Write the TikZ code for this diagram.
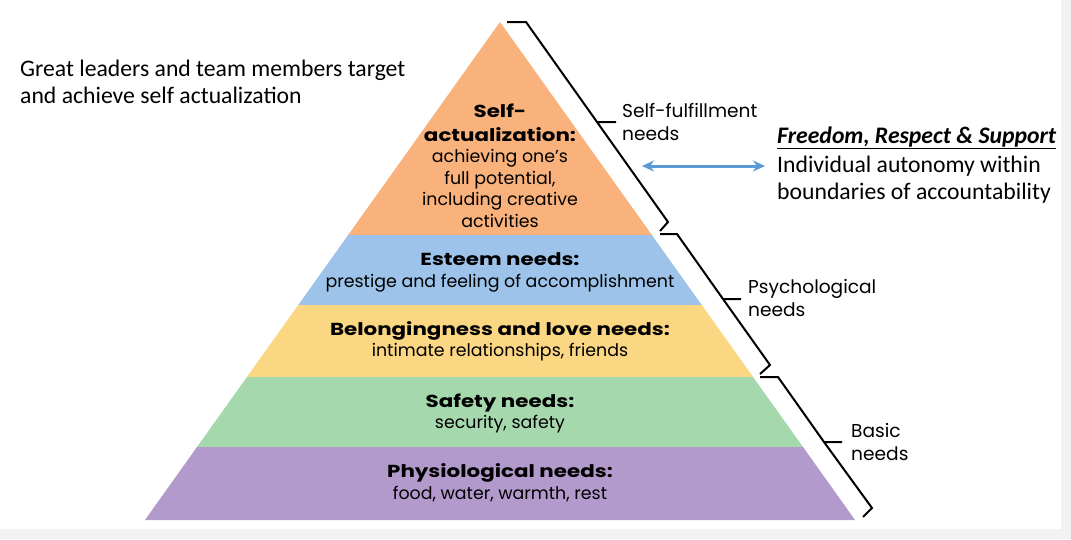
\documentclass[tikz,border=0pt]{standalone}
\usepackage{fontspec}
\setmainfont{Carlito}
\newfontfamily\pyrfont{Poppins}
\newfontfamily\headfont{Poppins}[FakeStretch=1.23]
\usetikzlibrary{arrows.meta,positioning}
\definecolor{selfcol}{HTML}{F9B27C}
\definecolor{esteemcol}{HTML}{9DC3EA}
\definecolor{lovecol}{HTML}{FCD783}
\definecolor{safecol}{HTML}{A6D8AE}
\definecolor{physcol}{HTML}{B39ACC}
\definecolor{linkblue}{HTML}{5B9BD5}
\definecolor{pagegray}{HTML}{F2F2F2}
\newcommand\hd[1]{{\headfont\bfseries #1}}
\tikzset{
  layer/.style  ={align=center,font=\pyrfont\fontsize{17.4}{21.5}\selectfont,inner sep=0pt},
  needlbl/.style={anchor=west,align=left,font=\pyrfont\fontsize{18.6}{23}\selectfont,inner sep=0pt},
  note/.style   ={anchor=west,align=left,font=\fontsize{23.7}{27.5}\selectfont,inner sep=0pt},
  bracket/.style={draw=black,line width=2pt,line join=miter},
  twoway/.style ={{Stealth[length=12pt,width=11pt]}-{Stealth[length=12pt,width=11pt]},
                  line width=3pt,draw=linkblue}
}

\begin{document}
\begin{tikzpicture}[x=1pt,y=-1pt]
  \useasboundingbox (0,0) rectangle (1071,539);
  \fill[pagegray] (0,0) rectangle (1071,539);
  \fill[white] (0,0) rectangle (1061,529);
  % pyramid bands, apex (500,22), base 145..855 at y=520
  \foreach \ya/\yb/\col in {22/235/selfcol,235/305/esteemcol,305/377/lovecol,
                            377/447/safecol,447/520/physcol}
    \fill[\col] ({500-0.7129*(\ya-22)},\ya) -- ({500+0.7129*(\ya-22)},\ya)
      -- ({500+0.7129*(\yb-22)},\yb) -- ({500-0.7129*(\yb-22)},\yb) -- cycle;
  % layer texts
  \node[layer] (self) at (500,166) {\hd{Self-}\\[2pt]\hd{actualization:}\\
    achieving one’s\\full potential,\\including creative\\activities};
  \node[layer] (esteem) at (500,272.5) {\hd{Esteem needs:}\\
    prestige and feeling of accomplishment};
  \node[layer] (love) at (500,341.5) {\hd{Belongingness and love needs:}\\
    intimate relationships, friends};
  \node[layer] (safety) at (500,413.5) {\hd{Safety needs:}\\security, safety};
  \node[layer] (phys) at (500,483) {\hd{Physiological needs:}\\
    food, water, warmth, rest};
  % brackets
  \draw[bracket] (507,22) -- (526,22) -- (597,122) -- (616,122)
                 (597,122) -- (668,222) -- (660,231);
  \draw[bracket] (660,234) -- (677,234) -- (723,299) -- (741,299)
                 (723,299) -- (770,365) -- (760,374);
  \draw[bracket] (760,377) -- (778,377) -- (824,442) -- (842,442)
                 (824,442) -- (872,508) -- (863,517);
  \node[needlbl] (fulfil) at (622,122) {Self-fulfillment\\needs};
  \node[needlbl] (psych) at (748,298) {Psychological\\needs};
  \node[needlbl] (basic) at (851,442) {Basic\\needs};
  % notes
  \node[note] (leaders) at (20,82) {Great leaders and team members target\\
    and achieve self actualization};
  \node[note] (freedom) at (777,138) {\textbf{\textit{\underline{Freedom, Respect \& Support}}}};
  \node[note] (autonomy) at (777,179.5) {Individual autonomy within\\
    boundaries of accountability};
  \coordinate (arrL) at (642,166);
  \coordinate (arrR) at (765,166);
  \draw[twoway] (arrL) -- (arrR);
\end{tikzpicture}
\end{document}
